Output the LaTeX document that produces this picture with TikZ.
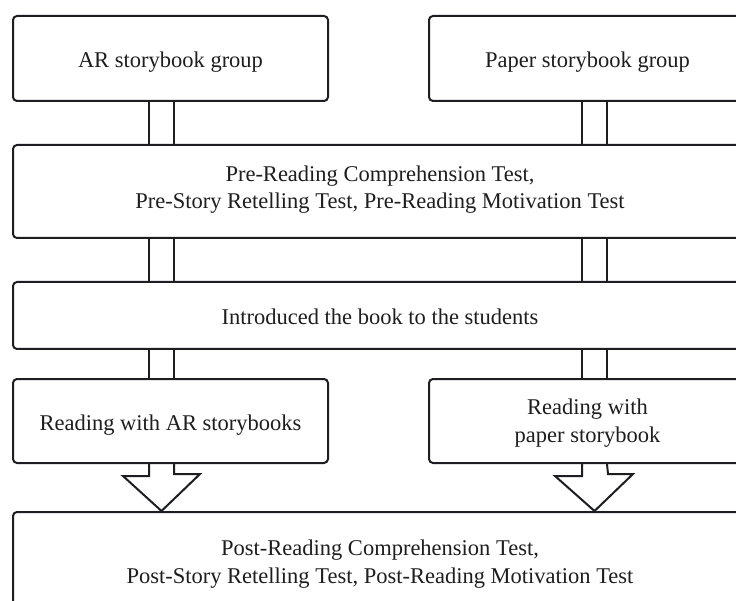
\documentclass[tikz,border=0pt]{standalone}
\usepackage{fontspec}
\setmainfont{Liberation Serif}
\usetikzlibrary{calc}
\definecolor{linec}{RGB}{28,30,34}
\definecolor{textc}{RGB}{30,30,30}
\begin{document}
\begin{tikzpicture}[x=1pt,y=-1pt,
  box/.style={draw=linec, line width=2pt, rounded corners=4pt, fill=white, inner sep=0pt},
  txt/.style={anchor=base, inner sep=0pt, text=textc, font=\fontsize{22.5}{27}\selectfont},
  conn/.style={draw=linec, line width=2pt},
  hollow/.style={draw=linec, line width=2pt, line join=miter}]
\useasboundingbox (0,0) rectangle (736,601);
\clip (0,0) rectangle (736,601);
\fill[white] (0,0) rectangle (736,601);

% boxes
\node[box, minimum width=315pt, minimum height=85pt] (ar) at (170.5,58.5) {};
\node[box, minimum width=317pt, minimum height=85pt] (paper) at (587.5,58.5) {};
\node[box, minimum width=734pt, minimum height=93pt] (pre) at (380,191.5) {};
\node[box, minimum width=734pt, minimum height=67pt] (intro) at (380,315.5) {};
\node[box, minimum width=315pt, minimum height=84pt] (readar) at (170.5,421) {};
\node[box, minimum width=317pt, minimum height=84pt] (readpaper) at (587.5,421) {};
\node[box, minimum width=734pt, minimum height=106pt] (post) at (380,565) {};

% texts (one node per printed line, placed on its baseline)
\node[txt] (arT) at ($(ar.center)+(0,9.5)$) {AR storybook group};
\node[txt] (paperT) at ($(paper.center)+(0,9.5)$) {Paper storybook group};
\node[txt] (preT1) at ($(pre.center)+(0,-10)$) {Pre-Reading Comprehension Test,};
\node[txt] (preT2) at ($(pre.center)+(0,17.5)$) {Pre-Story Retelling Test, Pre-Reading Motivation Test};
\node[txt] (introT) at ($(intro.center)+(0,9.5)$) {Introduced the book to the students};
\node[txt] (readarT) at ($(readar.center)+(0,9.5)$) {Reading with AR storybooks};
\node[txt] (readpaperT1) at ($(readpaper.center)+(0,-6.5)$) {Reading with};
\node[txt] (readpaperT2) at ($(readpaper.center)+(0,21.5)$) {paper storybook};
\node[txt] (postT1) at ($(post.center)+(0,-10)$) {Post-Reading Comprehension Test,};
\node[txt] (postT2) at ($(post.center)+(0,18)$) {Post-Story Retelling Test, Post-Reading Motivation Test};

\coordinate (xl1) at (149,0);
\coordinate (xl2) at (174,0);
\coordinate (xlc) at (161.5,0);
\coordinate (xr1) at (582,0);
\coordinate (xr2) at (607,0);
\coordinate (xrc) at (594.5,0);

% double-line connectors
\foreach \a/\b in {ar/pre, pre/intro, intro/readar}{
  \draw[conn] (\a.south -| xl1) -- (\b.north -| xl1);
  \draw[conn] (\a.south -| xl2) -- (\b.north -| xl2);
}
\foreach \a/\b in {paper/pre, pre/intro, intro/readpaper}{
  \draw[conn] (\a.south -| xr1) -- (\b.north -| xr1);
  \draw[conn] (\a.south -| xr2) -- (\b.north -| xr2);
}

% hollow arrows into the post-test box
\draw[hollow] (readar.south -| xl1) -- ++(0,12) -- ++(-26,0)
  -- (post.north -| xlc) -- ++(38.5,-37) -- ++(-26,0) -- (readar.south -| xl2);
\draw[hollow] (readpaper.south -| xr1) -- ++(0,12) -- ++(-27,0)
  -- (post.north -| xrc) -- ++(38.5,-37) -- ++(-25,0) -- (readpaper.south -| xr2);
\end{tikzpicture}
\end{document}
